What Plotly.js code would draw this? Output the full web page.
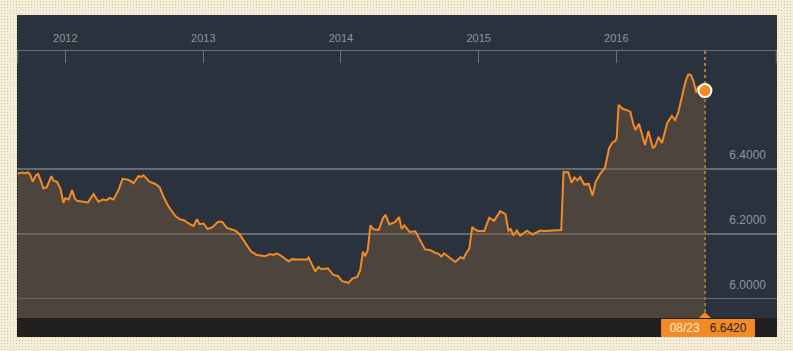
<!DOCTYPE html>
<html>
<head>
<meta charset="utf-8">
<script src="https://cdn.plot.ly/plotly-3.0.1.min.js"></script>
<style>
  html, body { margin:0; padding:0; width:793px; height:351px; overflow:hidden; }
  body {
    background-color:#f4eedb;
    background-image: radial-gradient(#d6c69b 0.8px, transparent 0.9px);
    background-size: 3px 3px;
  }
  #chart { position:absolute; left:17px; top:15px; width:760px; height:322px; }
</style>
</head>
<body>
<div id="chart"></div>
<script>
// USD/CNY style daily rate
const dates = [
 '2011-08-28','2011-09-08','2011-09-17','2011-09-24','2011-09-30','2011-10-07','2011-10-15','2011-10-21',
 '2011-10-29','2011-11-04','2011-11-13','2011-11-25','2011-12-01','2011-12-10','2011-12-19','2011-12-27',
 '2012-01-01','2012-01-10','2012-01-19','2012-01-26','2012-02-01','2012-02-14','2012-03-01','2012-03-16',
 '2012-03-29','2012-04-09','2012-04-20','2012-04-27','2012-05-08','2012-05-21','2012-06-01','2012-06-12',
 '2012-06-21','2012-06-30','2012-07-13','2012-07-20','2012-07-26','2012-08-03','2012-08-11','2012-08-27',
 '2012-09-07','2012-09-18','2012-10-01','2012-10-19','2012-11-01','2012-11-10','2012-11-23','2012-12-06',
 '2012-12-15','2012-12-22','2013-01-02','2013-01-12','2013-01-24','2013-02-10','2013-02-20','2013-03-05',
 '2013-03-27','2013-04-07','2013-04-22','2013-05-08','2013-05-23','2013-06-14','2013-06-27','2013-07-06',
 '2013-07-15','2013-07-28','2013-08-15','2013-08-24','2013-09-10','2013-10-03','2013-10-07','2013-10-16',
 '2013-10-25','2013-11-02','2013-11-10','2013-11-27','2013-12-12','2013-12-24','2014-01-04','2014-01-21',
 '2014-01-31','2014-02-13','2014-02-21','2014-02-28','2014-03-06','2014-03-13','2014-03-20','2014-03-28',
 '2014-04-11','2014-04-22','2014-04-29','2014-05-09','2014-05-25','2014-06-04','2014-06-11','2014-06-18',
 '2014-07-02','2014-07-17','2014-07-30','2014-08-12','2014-08-25','2014-09-08','2014-09-16','2014-09-24',
 '2014-10-01','2014-10-13','2014-10-31','2014-11-14','2014-11-22','2014-12-01','2014-12-07','2014-12-15',
 '2014-12-23','2014-12-31','2015-01-16','2015-01-29','2015-02-11','2015-02-27','2015-03-13','2015-03-21',
 '2015-03-27','2015-04-03','2015-04-12','2015-04-21','2015-05-09','2015-05-24','2015-06-13','2015-06-26',
 '2015-07-05','2015-08-08','2015-08-14','2015-08-27','2015-09-04','2015-09-12','2015-09-20','2015-09-27',
 '2015-10-08','2015-10-20','2015-10-30','2015-11-07','2015-11-19','2015-12-02','2015-12-13','2015-12-22',
 '2015-12-29','2016-01-02','2016-01-07','2016-01-18','2016-01-30','2016-02-07','2016-02-15','2016-02-21',
 '2016-03-01','2016-03-11','2016-03-17','2016-03-26','2016-04-07','2016-04-13','2016-04-22','2016-05-01',
 '2016-05-08','2016-05-15','2016-05-27','2016-06-05','2016-06-13','2016-06-25','2016-07-03','2016-07-10',
 '2016-07-17','2016-07-24','2016-07-31','2016-08-05','2016-08-12','2016-08-23'
];
const rates = [
 6.386,6.389,6.387,6.390,6.382,6.361,6.381,6.385,
 6.361,6.340,6.344,6.378,6.364,6.361,6.340,6.296,
 6.310,6.306,6.335,6.310,6.302,6.299,6.297,6.323,
 6.299,6.306,6.304,6.311,6.306,6.335,6.370,6.368,
 6.364,6.356,6.378,6.376,6.381,6.371,6.361,6.354,
 6.344,6.313,6.284,6.255,6.244,6.243,6.232,6.224,
 6.245,6.230,6.232,6.215,6.220,6.238,6.237,6.218,
 6.210,6.199,6.171,6.145,6.135,6.131,6.138,6.135,
 6.140,6.131,6.115,6.122,6.121,6.121,6.127,6.107,
 6.084,6.098,6.091,6.094,6.073,6.070,6.054,6.049,
 6.062,6.067,6.088,6.145,6.131,6.150,6.226,6.214,
 6.212,6.248,6.259,6.229,6.237,6.252,6.215,6.226,
 6.206,6.208,6.181,6.152,6.150,6.141,6.139,6.130,
 6.140,6.128,6.113,6.128,6.124,6.145,6.154,6.221,
 6.213,6.209,6.209,6.250,6.240,6.270,6.261,6.210,
 6.215,6.195,6.210,6.195,6.210,6.198,6.210,6.209,
 6.210,6.212,6.391,6.390,6.358,6.374,6.365,6.375,
 6.352,6.354,6.318,6.360,6.385,6.404,6.465,6.482,
 6.486,6.496,6.598,6.586,6.581,6.577,6.539,6.520,
 6.540,6.499,6.474,6.517,6.464,6.471,6.499,6.480,
 6.511,6.542,6.564,6.551,6.574,6.628,6.672,6.692,
 6.690,6.669,6.635,6.656,6.637,6.642
];
const yearTicks = ['2012-01-01','2013-01-01','2014-01-01','2015-01-01','2016-01-01'];
const yearLabels = ['2012','2013','2014','2015','2016'];
const rateTicks = [6.0, 6.2, 6.4];

const n = dates.length;
const lastDate = dates[n-1];
const lastRate = rates[n-1];
const lastLabel = lastDate.slice(5,7) + '/' + lastDate.slice(8,10);

const orange = '#f28a26';
const sp = '&nbsp;';

const traces = [
  {
    x: dates, y: rates, type: 'scatter', mode: 'lines',
    line: { color: orange, width: 2, shape: 'linear' },
    fill: 'tozeroy', fillcolor: 'rgba(122,92,62,0.45)',
    hoverinfo: 'skip'
  },
  {
    x: [lastDate], y: [lastRate], type: 'scatter', mode: 'markers',
    marker: { color: orange, size: 13, line: { color: '#ffffff', width: 2 } },
    hoverinfo: 'skip'
  }
];

const layout = {
  width: 760, height: 322,
  margin: { l: 0, r: 0, t: 36, b: 19, pad: 0 },
  paper_bgcolor: '#2a323e',
  plot_bgcolor: '#2a323e',
  showlegend: false,
  font: { family: 'Liberation Sans, Arial, sans-serif' },
  xaxis: {
    type: 'date', side: 'top',
    range: ['2011-08-26', '2017-03-02'],
    tickmode: 'array', tickvals: yearTicks, ticktext: yearLabels,
    ticks: 'inside', ticklen: 12, tickwidth: 1, tickcolor: '#6a7078',
    showline: true, linecolor: '#6a7078', linewidth: 1,
    showgrid: false, zeroline: false,
    tickfont: { size: 11, color: '#8e949b' },
    ticklabelstandoff: 4,
    fixedrange: true
  },
  yaxis: {
    side: 'right',
    range: [5.9404, 6.7642],
    tickmode: 'array', tickvals: rateTicks, tickformat: '.4f',
    ticklabelposition: 'inside',
    ticklabelshift: -14,
    ticklabelstandoff: 8,
    ticks: '',
    showgrid: true, gridcolor: '#676c73', gridwidth: 1.5,
    zeroline: false, showline: false,
    tickfont: { size: 12, color: '#8d949c' },
    fixedrange: true
  },
  shapes: [
    { type: 'rect', xref: 'paper', yref: 'paper', x0: 0, x1: 1, y0: -19/267, y1: 0,
      fillcolor: '#221f1f', line: { width: 0 }, layer: 'above' },
    { type: 'line', xref: 'x', yref: 'paper', x0: lastDate, x1: lastDate, y0: 0, y1: 1,
      line: { color: '#a4823a', width: 2, dash: 'dot' }, layer: 'below' },
    { type: 'line', xref: 'paper', yref: 'paper', x0: 0.001, x1: 0.001, y0: 1, y1: 1 - 12/267,
      line: { color: '#6a7078', width: 1 } },
    { type: 'line', xref: 'paper', yref: 'paper', x0: 0.999, x1: 0.999, y0: 1, y1: 1 - 12/267,
      line: { color: '#6a7078', width: 1 } },
    { type: 'path', xref: 'x', xsizemode: 'pixel', xanchor: lastDate,
      yref: 'paper', ysizemode: 'pixel', yanchor: 0,
      path: 'M-6,0 L0,6 L6,0 Z', fillcolor: orange, line: { width: 0 }, layer: 'above' }
  ],
  annotations: [
    { xref: 'x', x: lastDate, yref: 'paper', y: 0, xanchor: 'center', yanchor: 'top',
      xshift: 3, yshift: -1, showarrow: false,
      text: sp + sp + '<span style="color:#fdebd3">' + lastLabel + '</span>' + sp + sp + sp +
            '<span style="color:#2b2622">' + lastRate.toFixed(4) + '</span>' + sp + sp,
      font: { size: 12, family: 'Liberation Sans, Arial, sans-serif' },
      bgcolor: orange, borderpad: 2, borderwidth: 0 }
  ]
};

Plotly.newPlot('chart', traces, layout, { displayModeBar: false, staticPlot: true });
</script>
</body>
</html>
